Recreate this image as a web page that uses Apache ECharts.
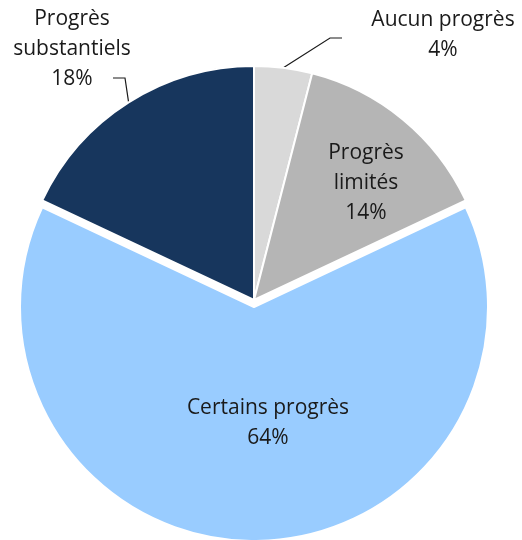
<!DOCTYPE html>
<html>
<head>
<meta charset="utf-8">
<style>
  html, body { margin: 0; padding: 0; background: #fff; }
  #chart { width: 522px; height: 540px; }
</style>
<script src="https://cdn.jsdelivr.net/npm/echarts@6/dist/echarts.min.js"></script>
</head>
<body>
<div id="chart"></div>
<script>
const categories = ['Aucun progrès', 'Progrès limités', 'Certains progrès', 'Progrès substantiels'];
const labelTexts = ['Aucun progrès', 'Progrès\nlimités', 'Certains progrès', 'Progrès\nsubstantiels'];
const values = [4, 14, 64, 18];
const colors = ['#d9d9d9', '#b5b5b5', '#99ccff', '#17365d'];

const CX = 254, CY = 300, R = 234;

// label placement (pixels), Excel-like best fit; null = default inside spot + offset
const labelPos = [
  { x: 443, y: 35 },
  { x: 366, y: 183 },
  null,
  { x: 72, y: 49 }
];
const labelOffset = [null, null, [14, -4], null];
// leader line: elbow and end next to the label (only outside labels)
const leaders = [
  { elbow: [330, 38], end: [342, 38] },
  null,
  null,
  { elbow: [125, 78], end: [113, 78] }
];

const total = values.reduce((a, b) => a + b, 0);
function midArcPoint(i) {
  let before = 0;
  for (let k = 0; k < i; k++) before += values[k];
  const a = (before + values[i] / 2) / total * 2 * Math.PI;
  return [CX + R * Math.sin(a), CY - R * Math.cos(a)];
}

const chart = echarts.init(document.getElementById('chart'));

const data = categories.map((name, i) => {
  const label = {
    position: leaders[i] ? 'outside' : 'inside',
    formatter: labelTexts[i] + '\n' + values[i] + '%'
  };
  if (labelOffset[i]) label.offset = labelOffset[i];
  return {
    name: name,
    value: values[i],
    selected: i === 2,
    itemStyle: { color: colors[i] },
    label: label,
    select: labelOffset[i] ? { label: { offset: labelOffset[i] } } : undefined,
    labelLine: { show: !!leaders[i] }
  };
});

chart.setOption({
  animation: false,
  series: [{
    type: 'pie',
    center: [CX, CY],
    radius: R,
    startAngle: 90,
    clockwise: true,
    selectedMode: 'single',
    selectedOffset: 7,
    avoidLabelOverlap: false,
    itemStyle: { borderColor: '#fff', borderWidth: 2 },
    label: {
      fontFamily: 'Open Sans',
      fontSize: 21,
      lineHeight: 30,
      color: '#1a1a1a',
      align: 'center'
    },
    labelLine: {
      length: 15,
      length2: 12,
      lineStyle: { color: '#1a1a1a', width: 1.2 }
    },
    labelLayout: function (params) {
      const i = params.dataIndex;
      const p = labelPos[i];
      if (!p) return {};
      const out = { x: p.x, y: p.y, align: 'center', verticalAlign: 'middle' };
      if (leaders[i]) {
        out.labelLinePoints = [midArcPoint(i), leaders[i].elbow, leaders[i].end];
      }
      return out;
    },
    emphasis: { disabled: true },
    data: data
  }]
});
</script>
</body>
</html>
